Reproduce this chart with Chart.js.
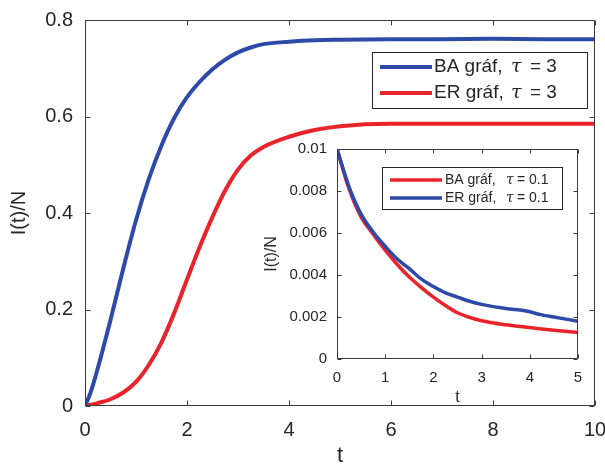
<!DOCTYPE html>
<html>
<head>
<meta charset="utf-8">
<script src="https://cdn.jsdelivr.net/npm/chart.js@4/dist/chart.umd.min.js"></script>
<style>
  html, body { margin: 0; padding: 0; background: #fff; }
  #wrap { position: relative; width: 605px; height: 470px; }
  #main-chart { position: absolute; left: 0; top: 0; }
  #inset-chart { position: absolute; left: 255px; top: 135px; }
</style>
</head>
<body>
<div id="wrap">
  <canvas id="main-chart" width="605" height="470"></canvas>
  <canvas id="inset-chart" width="335" height="275"></canvas>
</div>
<script>
// --- Main plot data (tau = 3) ---
const tMain = [0, 0.1, 0.25, 0.5, 0.75, 1, 1.25, 1.5, 1.75, 2, 2.25, 2.5, 2.75, 3, 3.25, 3.5, 4, 4.5, 5, 6, 7, 8, 9, 10];
const baMain = [0, 0.025, 0.078, 0.178, 0.285, 0.385, 0.47, 0.54, 0.597, 0.64, 0.672, 0.698, 0.718, 0.733, 0.743, 0.75, 0.755, 0.758, 0.759, 0.76, 0.76, 0.761, 0.76, 0.76];
const erMain = [0, 0.002, 0.006, 0.014, 0.028, 0.05, 0.085, 0.132, 0.193, 0.262, 0.33, 0.392, 0.447, 0.49, 0.519, 0.537, 0.558, 0.572, 0.58, 0.585, 0.585, 0.585, 0.585, 0.585];
const mainXTicks = [0, 2, 4, 6, 8, 10];
const mainYTicks = [0, 0.2, 0.4, 0.6, 0.8];

// --- Inset data (tau = 0.1) ---
const tInset = [0, 0.25, 0.5, 0.75, 1, 1.25, 1.5, 1.75, 2, 2.25, 2.5, 2.75, 3, 3.5, 3.9, 4.25, 4.5, 5];
const baInset = [0.01, 0.0081, 0.00677, 0.00594, 0.00518, 0.0045, 0.0039, 0.0034, 0.00295, 0.00255, 0.0022, 0.00198, 0.00182, 0.00163, 0.00152, 0.00143, 0.00137, 0.00126];
const erInset = [0.01, 0.0082, 0.0069, 0.00605, 0.00537, 0.00476, 0.0043, 0.0038, 0.00345, 0.00315, 0.00295, 0.00275, 0.0026, 0.0024, 0.0023, 0.0021, 0.002, 0.0018];
const insetXTicks = [0, 1, 2, 3, 4, 5];
const insetYTicks = [0, 0.002, 0.004, 0.006, 0.008, 0.01];

const seriesLabels = ['BA gráf,', 'ER gráf,'];
const tauMain = '3';
const tauInset = '0.1';

const BLUE = '#2d4aa8';
const RED = '#e8232a';
const INK = '#262626';
const FONT = "'Liberation Sans', Arial, Helvetica, sans-serif";

const toPoints = (xs, ys) => xs.map((x, i) => ({ x, y: ys[i] }));
const fmt = v => String(+v.toFixed(4));

// --- Matlab-like box with inward ticks on all four sides ---
const boxAxes = {
  id: 'boxAxes',
  afterDatasetsDraw(chart, args, opts) {
    const { ctx, chartArea: a, scales: { x, y } } = chart;
    const L = opts.tickLength;
    const l = Math.round(a.left) + 0.5, r = Math.round(a.right) - 0.5;
    const t = Math.round(a.top) + 0.5, b = Math.round(a.bottom) - 0.5;
    ctx.save();
    ctx.strokeStyle = opts.color;
    ctx.lineWidth = 1;
    ctx.beginPath();
    ctx.rect(l, t, r - l, b - t);
    x.ticks.forEach(tk => {
      const px = Math.round(x.getPixelForValue(tk.value)) + 0.5;
      ctx.moveTo(px, b); ctx.lineTo(px, b - L);
      ctx.moveTo(px, t); ctx.lineTo(px, t + L);
    });
    y.ticks.forEach(tk => {
      const py = Math.round(y.getPixelForValue(tk.value)) + 0.5;
      ctx.moveTo(l, py); ctx.lineTo(l + L, py);
      ctx.moveTo(r, py); ctx.lineTo(r - L, py);
    });
    ctx.stroke();
    ctx.restore();
  }
};

// --- Boxed legend drawn inside the axes ---
const boxLegend = {
  id: 'boxLegend',
  afterDraw(chart, args, o) {
    const { ctx } = chart;
    ctx.save();
    ctx.fillStyle = '#fff';
    ctx.fillRect(o.x, o.y, o.w, o.h);
    ctx.strokeStyle = INK;
    ctx.lineWidth = 1;
    ctx.strokeRect(o.x + 0.5, o.y + 0.5, o.w, o.h);
    ctx.textBaseline = 'middle';
    ctx.textAlign = 'left';
    chart.data.datasets.forEach((ds, i) => {
      const cy = o.y + o.rowTop + i * o.rowGap;
      ctx.strokeStyle = ds.borderColor;
      ctx.lineWidth = o.lineWidth;
      ctx.beginPath();
      ctx.moveTo(o.x + o.lineX0, cy);
      ctx.lineTo(o.x + o.lineX1, cy);
      ctx.stroke();
      ctx.fillStyle = INK;
      ctx.font = `${o.size}px ${FONT}`;
      ctx.fillText(ds.label, o.x + o.textX, cy);
      ctx.font = `italic ${o.size}px 'DejaVu Serif', 'Liberation Serif', serif`;
      ctx.fillText('τ', o.x + o.tauX, cy);
      ctx.font = `${o.size}px ${FONT}`;
      ctx.fillText('= ' + o.tau, o.x + o.eqX, cy);
    });
    ctx.restore();
  }
};

function axisOpts(min, max, tickVals, size, pad, title, titleSize, titlePad, fixedSize, horizontal) {
  return {
    type: 'linear',
    min, max,
    afterBuildTicks: s => { s.ticks = tickVals.map(v => ({ value: v })); },
    afterFit: s => {
      if (horizontal) s.height = fixedSize; else s.width = fixedSize;
      // keep the plot box where the layout padding puts it
      s.paddingLeft = s.paddingRight = s.paddingTop = s.paddingBottom = 0;
    },
    grid: { drawOnChartArea: false, drawTicks: false },
    border: { display: false },
    ticks: {
      color: INK,
      padding: pad,
      maxRotation: 0,
      autoSkip: false,
      font: { family: FONT, size },
      callback: v => fmt(v),
    },
    title: {
      display: true,
      text: title,
      color: INK,
      font: { family: FONT, size: titleSize },
      padding: titlePad,
    },
  };
}

function initMainChart() {
  const ctx = document.getElementById('main-chart').getContext('2d');
  new Chart(ctx, {
    type: 'line',
    data: {
      datasets: [
        { label: seriesLabels[0], data: toPoints(tMain, baMain), borderColor: BLUE, borderWidth: 4 },
        { label: seriesLabels[1], data: toPoints(tMain, erMain), borderColor: RED, borderWidth: 4 },
      ]
    },
    options: {
      responsive: false,
      animation: false,
      layout: { padding: { top: 20, right: 10, left: 0, bottom: 0 } },
      elements: { point: { radius: 0 }, line: { cubicInterpolationMode: 'monotone', fill: false } },
      scales: {
        x: axisOpts(0, 10, mainXTicks, 20, 12, 't', 22, { top: 0, bottom: 1 }, 64, true),
        y: axisOpts(0, 0.8, mainYTicks, 20, 12, 'I(t)/N', 20, { top: 7, bottom: 0 }, 85, false),
      },
      plugins: {
        legend: { display: false },
        tooltip: { enabled: false },
        boxAxes: { tickLength: 5, color: '#3a3a3a' },
        boxLegend: {
          x: 372, y: 52, w: 215, h: 56, rowTop: 15, rowGap: 26,
          lineX0: 8, lineX1: 60, lineWidth: 4, textX: 62, tauX: 139, eqX: 158,
          size: 19, tau: tauMain,
        },
      }
    },
    plugins: [boxAxes, boxLegend]
  });
}

function initInsetChart() {
  const ctx = document.getElementById('inset-chart').getContext('2d');
  new Chart(ctx, {
    type: 'line',
    data: {
      datasets: [
        { label: seriesLabels[0], data: toPoints(tInset, baInset), borderColor: RED, borderWidth: 3.5, order: 1 },
        { label: seriesLabels[1], data: toPoints(tInset, erInset), borderColor: BLUE, borderWidth: 3.5, order: 0 },
      ]
    },
    options: {
      responsive: false,
      animation: false,
      layout: { padding: { top: 14, right: 12, left: 0, bottom: 0 } },
      elements: { point: { radius: 0 }, line: { cubicInterpolationMode: 'monotone', fill: false } },
      scales: {
        x: axisOpts(0, 5, insetXTicks, 15, 10, 't', 16, { top: 0, bottom: 3 }, 51, true),
        y: axisOpts(0, 0.01, insetYTicks, 15, 10, 'I(t)/N', 16, { top: 7, bottom: 0 }, 82, false),
      },
      plugins: {
        legend: { display: false },
        tooltip: { enabled: false },
        boxAxes: { tickLength: 4, color: '#3a3a3a' },
        boxLegend: {
          x: 127, y: 32, w: 180, h: 42, rowTop: 13, rowGap: 18,
          lineX0: 8, lineX1: 60, lineWidth: 3.5, textX: 63, tauX: 124, eqX: 135,
          size: 14, tau: tauInset,
        },
      }
    },
    plugins: [boxAxes, boxLegend]
  });
}

initMainChart();
initInsetChart();
</script>
</body>
</html>
